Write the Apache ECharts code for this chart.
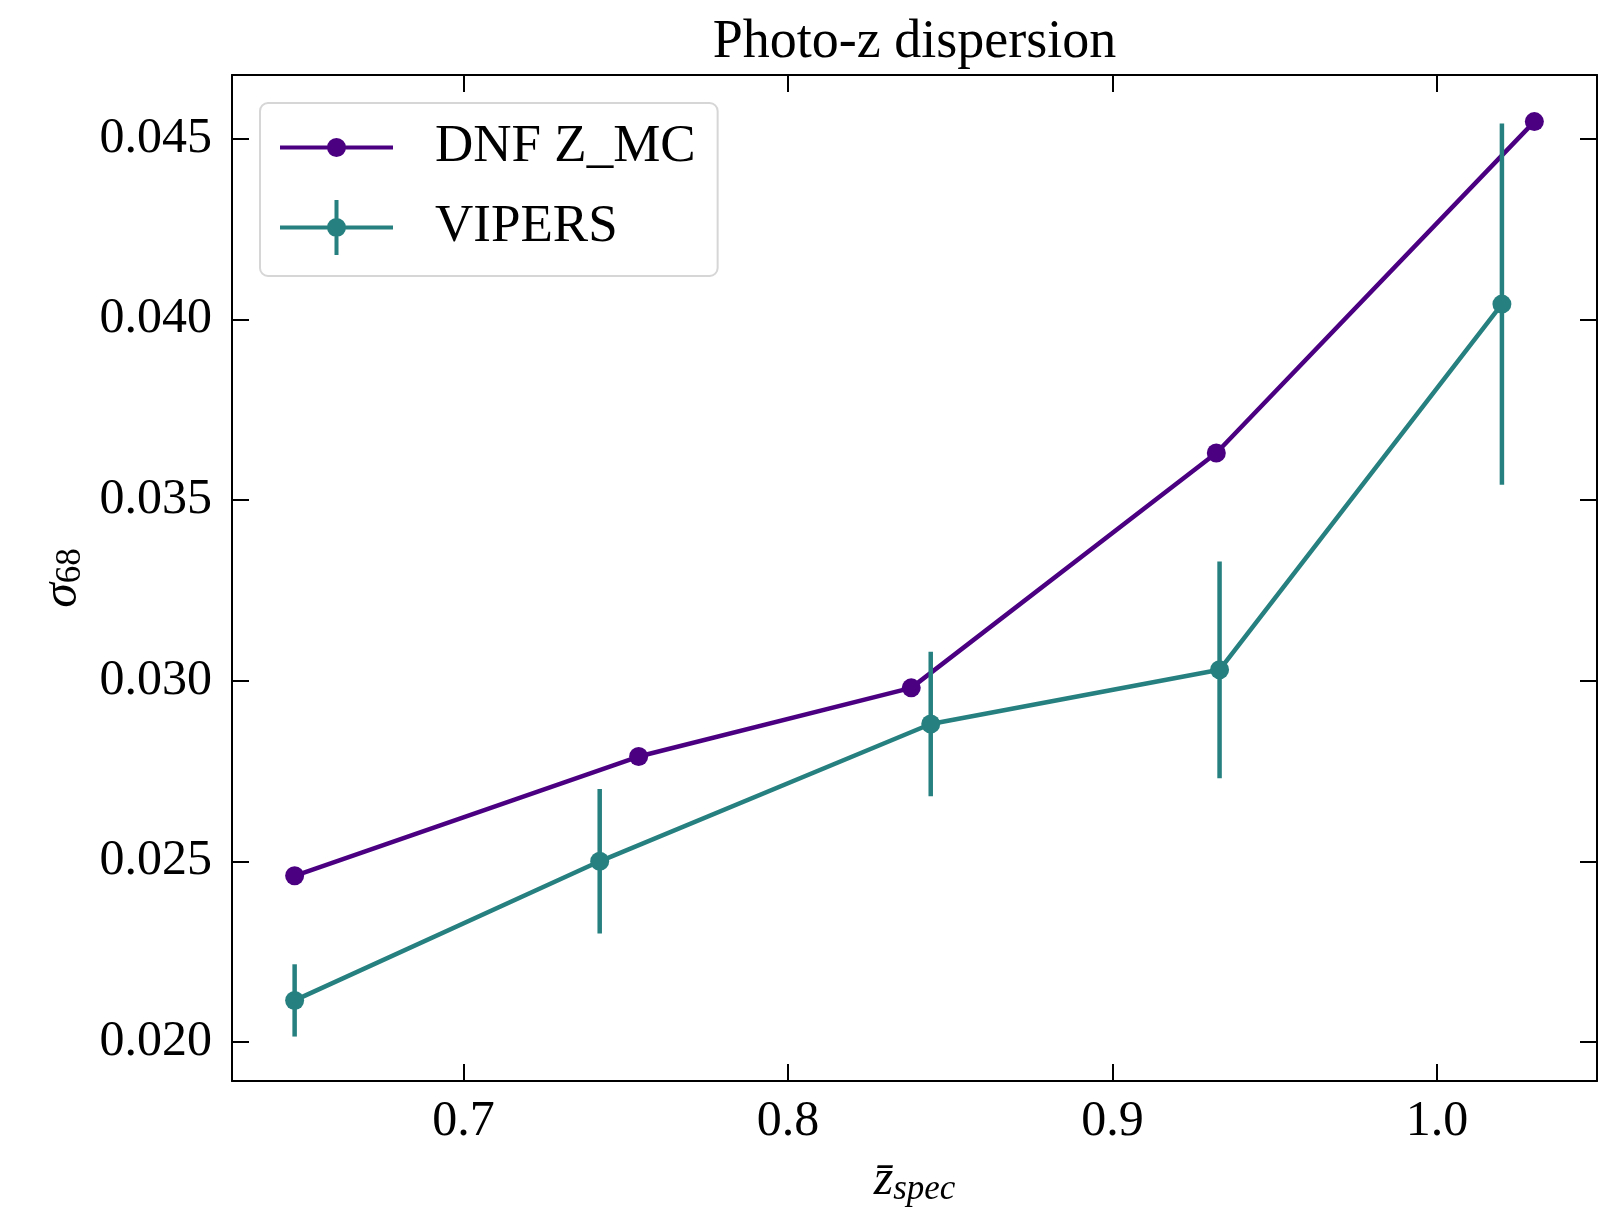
<!DOCTYPE html>
<html><head><meta charset="utf-8">
<script src="https://cdn.jsdelivr.net/npm/echarts@6/dist/echarts.min.js"></script>
<style>html,body{margin:0;padding:0;background:#fff}#c{width:1615px;height:1207px}</style>
</head><body><div id="c"></div>
<script>
const titleText = 'Photo-z dispersion';
const seriesNames = ['DNF Z_MC', 'VIPERS'];
const dnfX = [0.648, 0.754, 0.838, 0.932, 1.030];
const dnfY = [0.0246, 0.0279, 0.0298, 0.0363, 0.04547];
const vipersX = [0.648, 0.742, 0.844, 0.933, 1.020];
const vipersY = [0.02115, 0.0250, 0.0288, 0.0303, 0.04042];
const vipersErr = [0.0010, 0.0020, 0.0020, 0.0030, 0.0050];
const xTicks = [0.7, 0.8, 0.9, 1.0];
const yTicks = [0.020, 0.025, 0.030, 0.035, 0.040, 0.045];

const PURPLE = '#4b0082';
const TEAL = '#26807f';
const FONT = "'Liberation Serif', 'DejaVu Serif', serif";
const FS = 50;
const xRange = [0.6287, 1.0493];
const yRange = [0.01892, 0.04676];

const dnfIcon = 'path://M0 0 L0.01 0 Z M150 55 L149.99 55 Z M0 25.5 L113 25.5 L113 29.5 L0 29.5 Z M47 27.5 A9.5 9.5 0 1 1 66 27.5 A9.5 9.5 0 1 1 47 27.5 Z';
const vipIcon = 'path://M0 0 L0.01 0 Z M150 55 L149.99 55 Z M0 25.5 L113 25.5 L113 29.5 L0 29.5 Z M54.5 0 L58.5 0 L58.5 55 L54.5 55 Z M47 27.5 A9.5 9.5 0 1 1 66 27.5 A9.5 9.5 0 1 1 47 27.5 Z';

const axisLine = {show: true, onZero: false, lineStyle: {color: '#000', width: 2}};
function tick(vals) { return {show: true, inside: true, length: 17, customValues: vals, lineStyle: {color: '#000', width: 2}}; }

const chart = echarts.init(document.getElementById('c'), null, {renderer: 'canvas', width: 1615, height: 1207});
chart.setOption({
  animation: false,
  backgroundColor: '#fff',
  grid: {left: 232, right: 18, top: 75, bottom: 126, containLabel: false, outerBoundsMode: 'none'},
  legend: {
    left: 260, top: 103, orient: 'vertical',
    data: [{name: seriesNames[0], icon: dnfIcon}, {name: seriesNames[1], icon: vipIcon}],
    itemWidth: 150, itemHeight: 55, itemGap: 25,
    padding: [17, 22, 21, 20],
    backgroundColor: 'rgba(255,255,255,0.8)', borderColor: '#d6d6d6', borderWidth: 2, borderRadius: 8,
    textStyle: {fontFamily: FONT, fontSize: 53, color: '#000'},
    itemStyle: {borderWidth: 0},
    selectedMode: false
  },
  xAxis: [{
    type: 'value', position: 'bottom', min: xRange[0], max: xRange[1],
    axisLine: axisLine, axisTick: tick(xTicks), splitLine: {show: false},
    axisLabel: {customValues: xTicks, formatter: v => v.toFixed(1), fontFamily: FONT, fontSize: FS, color: '#000', margin: 16},
    name: '{z|z\u0304}{s|spec}', nameLocation: 'middle', nameGap: 74,
    nameTextStyle: {rich: {
      z: {fontFamily: FONT, fontStyle: 'italic', fontSize: 50, lineHeight: 52, color: '#000'},
      s: {fontFamily: FONT, fontStyle: 'italic', fontSize: 35, lineHeight: 34, verticalAlign: 'bottom', color: '#000'}
    }}
  }, {
    type: 'value', position: 'top', min: xRange[0], max: xRange[1],
    axisLine: axisLine, axisTick: tick(xTicks), splitLine: {show: false},
    axisLabel: {show: false},
    name: titleText, nameLocation: 'middle', nameGap: 5,
    nameTextStyle: {fontFamily: FONT, fontSize: 54, color: '#000'}
  }],
  yAxis: [{
    type: 'value', position: 'left', min: yRange[0], max: yRange[1],
    axisLine: axisLine, axisTick: tick(yTicks), splitLine: {show: false},
    axisLabel: {customValues: yTicks, formatter: v => v.toFixed(3), fontFamily: FONT, fontSize: FS, color: '#000', margin: 20},
    name: '{g|\u03c3}{s|68}', nameLocation: 'middle', nameGap: 140,
    nameTextStyle: {rich: {
      g: {fontFamily: FONT, fontStyle: 'italic', fontSize: 50, lineHeight: 52, color: '#000'},
      s: {fontFamily: FONT, fontSize: 35, lineHeight: 34, verticalAlign: 'bottom', color: '#000'}
    }}
  }, {
    type: 'value', position: 'right', min: yRange[0], max: yRange[1],
    axisLine: axisLine, axisTick: tick(yTicks), splitLine: {show: false},
    axisLabel: {show: false}
  }],
  series: [{
    name: seriesNames[0], type: 'line', xAxisIndex: 0, yAxisIndex: 0,
    data: dnfX.map((x, i) => [x, dnfY[i]]),
    symbol: 'circle', symbolSize: 19, color: PURPLE,
    lineStyle: {width: 4.5, color: PURPLE}, itemStyle: {color: PURPLE, borderWidth: 0}, z: 2
  }, {
    name: seriesNames[1], type: 'line', xAxisIndex: 0, yAxisIndex: 0,
    data: vipersX.map((x, i) => [x, vipersY[i]]),
    symbol: 'circle', symbolSize: 19, color: TEAL,
    lineStyle: {width: 4.5, color: TEAL}, itemStyle: {color: TEAL, borderWidth: 0}, z: 3
  }, {
    name: 'VIPERS error', type: 'custom', xAxisIndex: 0, yAxisIndex: 0,
    data: vipersX.map((x, i) => [x, vipersY[i] - vipersErr[i], vipersY[i] + vipersErr[i]]),
    encode: {x: 0, y: [1, 2]},
    renderItem: (params, api) => {
      const lo = api.coord([api.value(0), api.value(1)]);
      const hi = api.coord([api.value(0), api.value(2)]);
      return {type: 'line', shape: {x1: lo[0], y1: lo[1], x2: hi[0], y2: hi[1]}, style: {stroke: TEAL, lineWidth: 4.5}};
    },
    z: 3
  }]
});
</script>
</body></html>
